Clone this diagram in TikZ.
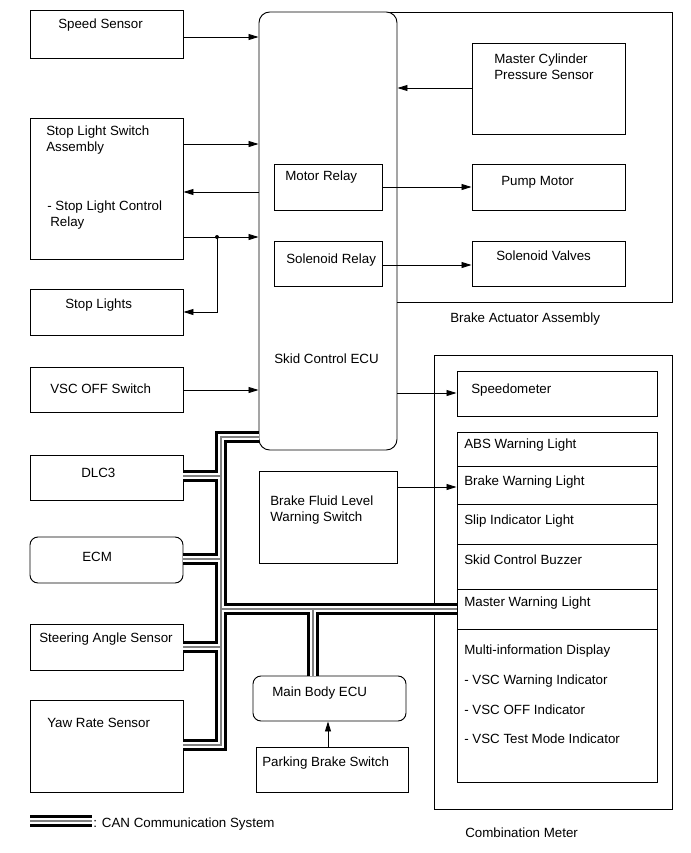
\documentclass[tikz,border=0pt]{standalone}
\usepackage{fontspec}
\setmainfont{Liberation Sans}
\usetikzlibrary{arrows.meta,fit}

% CAN wiring, drawn three times (outer, gap, centre)
\newcommand\canroute{(ecu.west |- 0,437) -- (221,437) -- (221,745) -- (yaw.east |- 0,745)
  (dlc.east |- 0,476) -- (221,476)
  (ecm.east |- 0,559) -- (221,559)
  (steer.east |- 0,647) -- (221,647)
  (221,609) -- (mwl.west |- 0,609)
  (313,609) -- (mbecu.north -| 313,0)
  (legA) -- (legB)}

\begin{document}
\begin{tikzpicture}[
    x=0.75pt,
    y=-0.75pt,
    font=\fontsize{10}{12}\selectfont,
    box/.style={draw, line width=0.7pt, inner sep=0pt},
    rbox/.style={box, rounded corners=6pt},
    txt/.style={anchor=base west, inner sep=0pt},
    sig/.style={line width=0.6pt, -{Triangle[length=7.5pt,width=4.5pt]}},
    canouter/.style={line width=9pt, line join=miter},
    cangap/.style={line width=4.6pt, white, line join=miter},
    canmid/.style={line width=0.8pt, gray, line join=miter}
  ]
    \useasboundingbox (0,0) rectangle (690,853);

    % left column
    \node[box, fit={(30,10) (183,58)}] (speed) {};
    \node[txt] (speedtxt) at (58,28) {Speed Sensor};
    \node[box, fit={(30,118) (183,259)}] (slsw) {};
    \node[txt] (slswtxta) at (46,135) {Stop Light Switch};
    \node[txt] (slswtxtb) at (46,151) {Assembly};
    \node[txt] (slswtxtc) at (47,210) {- Stop Light Control};
    \node[txt] (slswtxtd) at (50,226) {Relay};
    \node[box, fit={(30,289) (183,335)}] (stoplt) {};
    \node[txt] (stoplttxt) at (65,308) {Stop Lights};
    \node[box, fit={(30,367) (183,412)}] (vscsw) {};
    \node[txt] (vscswtxt) at (50,393) {VSC OFF Switch};
    \node[box, fit={(30,455) (183,500)}] (dlc) {};
    \node[txt] (dlctxt) at (81,477) {DLC3};
    \node[rbox, fit={(30,537) (183,583)}] (ecm) {};
    \node[txt] (ecmtxt) at (82,561) {ECM};
    \node[box, fit={(30,624) (183,670)}] (steer) {};
    \node[txt] (steertxt) at (39,642) {Steering Angle Sensor};
    \node[box, fit={(30,700) (183,792)}] (yaw) {};
    \node[txt] (yawtxt) at (47,727) {Yaw Rate Sensor};

    % skid control ECU and brake actuator
    \node[box, rounded corners=8pt, fit={(259,12) (397,450)}] (ecu) {};
    \node[txt] (ecutxt) at (274,363) {Skid Control ECU};
    \node[box, fit={(274,164) (382,210)}] (motrel) {};
    \node[txt] (motreltxt) at (285,180) {Motor Relay};
    \node[box, fit={(274,241) (382,286)}] (solrel) {};
    \node[txt] (solreltxt) at (286,263) {Solenoid Relay};
    \draw[line width=0.7pt] (ecu.east |- 0,302) -- (672,302) -- (672,12) -- (388,12);
    \node[txt] (acttxt) at (450,322) {Brake Actuator Assembly};
    \node[box, fit={(472,43) (625,134)}] (mcps) {};
    \node[txt] (mcpstxta) at (494,63) {Master Cylinder};
    \node[txt] (mcpstxtb) at (494,79) {Pressure Sensor};
    \node[box, fit={(472,164) (625,210)}] (pump) {};
    \node[txt] (pumptxt) at (501,185) {Pump Motor};
    \node[box, fit={(472,241) (625,286)}] (valves) {};
    \node[txt] (valvestxt) at (496,260) {Solenoid Valves};

    % middle
    \node[box, fit={(259,471) (397,563)}] (bflsw) {};
    \node[txt] (bflswtxta) at (270,505) {Brake Fluid Level};
    \node[txt] (bflswtxtb) at (270,521) {Warning Switch};
    \node[rbox, fit={(253,676) (406,721)}] (mbecu) {};
    \node[txt] (mbecutxt) at (272,696) {Main Body ECU};
    \node[box, fit={(256,747) (408,792)}] (pbsw) {};
    \node[txt] (pbswtxt) at (262,766) {Parking Brake Switch};

    % combination meter
    \node[box, fit={(434,355) (672,809)}] (cmeter) {};
    \node[txt] (cmetertxt) at (465,837) {Combination Meter};
    \node[box, fit={(457,371) (657,416)}] (speedo) {};
    \node[txt] (speedotxt) at (471,393) {Speedometer};
    \foreach \name/\top/\bot/\base/\label in {
        abs/432/466/448/ABS Warning Light,
        bwl/466/504/485/Brake Warning Light,
        slip/504/544/524/Slip Indicator Light,
        buzz/544/589/564/Skid Control Buzzer,
        mwl/589/629/606/Master Warning Light,
        mid/629/782/654/Multi-information Display} {
      \node[box, fit={(457,\top) (657,\bot)}] (\name) {};
      \node[txt] (\name txt) at (464,\base) {\label};
    }
    \node[txt] (midtxta) at (464,684) {- VSC Warning Indicator};
    \node[txt] (midtxtb) at (464,714) {- VSC OFF Indicator};
    \node[txt] (midtxtc) at (464,743) {- VSC Test Mode Indicator};

    % signal lines
    \draw[sig] (speed.east |- 0,37) -- (ecu.west |- 0,37);
    \draw[sig] (mcps.west |- 0,88) -- (ecu.east |- 0,88);
    \draw[sig] (slsw.east |- 0,144) -- (ecu.west |- 0,144);
    \draw[sig] (ecu.west |- 0,192) -- (slsw.east |- 0,192);
    \coordinate (split) at (217,237);
    \draw[sig] (slsw.east |- 0,237) -- (ecu.west |- 0,237);
    \draw[sig] (split) |- (stoplt.east |- 0,312);
    \fill (split) circle (2);
    \draw[sig] (motrel.east |- 0,187) -- (pump.west |- 0,187);
    \draw[sig] (solrel.east |- 0,265) -- (valves.west |- 0,265);
    \draw[sig] (vscsw.east |- 0,390) -- (ecu.west |- 0,390);
    \draw[sig] (ecu.east |- 0,393) -- (speedo.west |- 0,393);
    \draw[sig] (bflsw.east |- 0,487) -- (bwl.west |- 0,487);
    \draw[sig] (pbsw.north -| 328,0) -- (mbecu.south -| 328,0);

    % CAN bus and legend
    \coordinate (legA) at (30,821);
    \coordinate (legB) at (92,821);
    \draw[canouter] \canroute;
    \draw[cangap] \canroute;
    \draw[canmid] \canroute;
    \node[txt] (legtxt) at (93,827) {: CAN Communication System};
  \end{tikzpicture}
\end{document}
